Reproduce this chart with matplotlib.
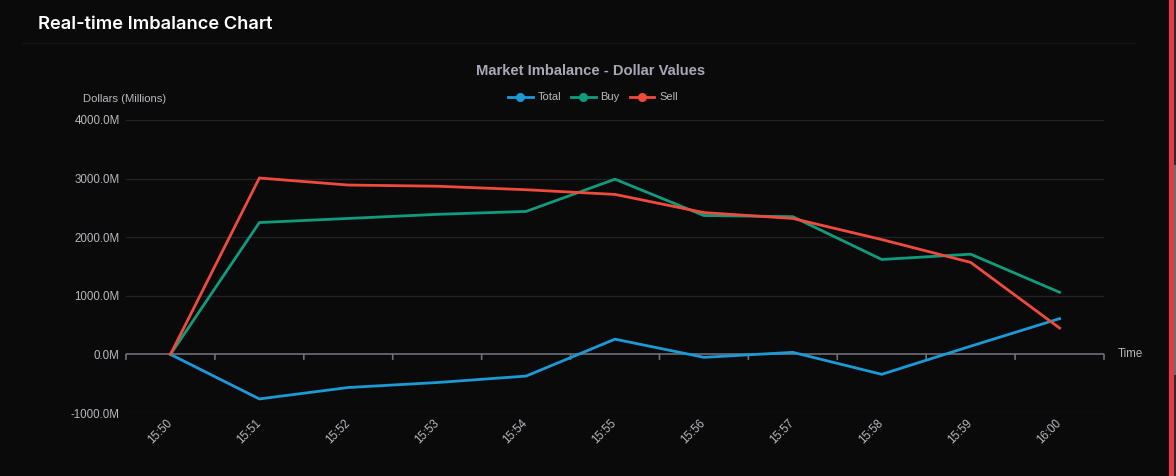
import matplotlib
matplotlib.use("Agg")
import matplotlib.pyplot as plt
from matplotlib.patches import Rectangle
from matplotlib.lines import Line2D
import matplotlib.transforms as mtransforms

# ---- data ----
times = ["15:50", "15:51", "15:52", "15:53", "15:54", "15:55",
         "15:56", "15:57", "15:58", "15:59", "16:00"]
buy = [0, 2250, 2320, 2390, 2440, 2990, 2370, 2350, 1620, 1710, 1060]
sell = [0, 3010, 2890, 2870, 2810, 2730, 2420, 2320, 1960, 1570, 450]
total = [0, -760, -565, -480, -370, 260, -50, 35, -340, 140, 610]
y_ticks = [-1000, 0, 1000, 2000, 3000, 4000]

W, H = 1176, 476
BG = "#0a0a0a"
C_TOTAL = "#1b9ad6"
C_BUY = "#119b7d"
C_SELL = "#ee4b3c"
TXT = "#b8b8be"

plt.rcParams['font.family'] = ['Liberation Sans', 'DejaVu Sans']

fig = plt.figure(figsize=(W / 100, H / 100), dpi=100, facecolor=BG)

def fx(px):
    return px / W

def fy(py):
    return 1 - py / H

# axes region in pixels
L, R, T, B = 126, 1104, 120, 413
ax = fig.add_axes([fx(L), fy(B), fx(R - L), (B - T) / H])
ax.set_facecolor(BG)
n = len(times)
xs = list(range(n))
ax.set_xlim(-0.5, n - 0.5)
ax.set_ylim(min(y_ticks), max(y_ticks))

for s in ax.spines.values():
    s.set_visible(False)

# grid
for v in y_ticks:
    if v != 0:
        ax.axhline(v, color="#222224", lw=1, zorder=0)
ax.set_yticks(y_ticks)
ax.set_yticklabels([f"{v:.1f}M" for v in y_ticks], color=TXT, fontsize=8.3)
ax.tick_params(axis='y', length=0, pad=4.5)

# zero axis with boundary ticks
ax.axhline(0, color="#6e6f78", lw=1.2, zorder=1)
ax.set_xticks([])
for i in range(n + 1):
    xb = i - 0.5
    ax.annotate("", xy=(xb, 0), xycoords='data', xytext=(0, -5), textcoords='offset pixels',
                arrowprops=dict(arrowstyle='-', color="#6e6f78", lw=1.2, shrinkA=0, shrinkB=0))

# x tick labels at bottom
btr = mtransforms.blended_transform_factory(ax.transData, ax.transAxes)
for i, t in enumerate(times):
    ax.text(i - 0.05, -0.015, t, transform=btr, rotation=45, rotation_mode='anchor',
            ha='right', va='top', color=TXT, fontsize=8.3)

ax.plot(xs, total, color=C_TOTAL, lw=2.0, zorder=3, solid_joinstyle='miter')
ax.plot(xs, buy, color=C_BUY, lw=2.0, zorder=3, solid_joinstyle='miter')
ax.plot(xs, sell, color=C_SELL, lw=2.0, zorder=4, solid_joinstyle='miter')

# axis names
fig.text(fx(125), fy(99.5), "Dollars (Millions)", ha='center', va='center', color=TXT, fontsize=8.1)
fig.text(fx(1118), fy(354), "Time", ha='left', va='center', color=TXT, fontsize=8.3)

# chart title
fig.text(fx(591), fy(71), "Market Imbalance - Dollar Values", ha='center', va='center',
         color="#a9a9b6", fontsize=10.6, fontweight='bold')

# legend
handles = [Line2D([], [], color=c, lw=2, marker='o', markersize=5.5, markeredgecolor=c)
           for c in (C_TOTAL, C_BUY, C_SELL)]
leg = fig.legend(handles, ["Total", "Buy", "Sell"], loc='center', bbox_to_anchor=(fx(593), fy(97.5)),
                 ncol=3, frameon=False, fontsize=8, handlelength=2.2, handletextpad=0.45,
                 columnspacing=0.9, labelcolor=TXT)

# header
fig.text(fx(38), fy(24.5), "Real-time Imbalance Chart", ha='left', va='center', color="white",
         fontsize=13.2, fontweight='semibold', family=['Inter', 'DejaVu Sans'])
fig.add_artist(Line2D([fx(22), fx(1135)], [fy(42.5), fy(42.5)], color="#181414", lw=1))

# right edge decoration
fig.patches.append(Rectangle((fx(1169), 0), fx(4.5), 1, transform=fig.transFigure,
                             facecolor="#e53944", edgecolor='none', lw=0, zorder=5))
fig.patches.append(Rectangle((fx(1173.5), 0), fx(2.5), 1, transform=fig.transFigure,
                             facecolor="#2a2a30", edgecolor='none', lw=0, zorder=5))
fig.patches.append(Rectangle((fx(1173.5), fy(375)), fx(2.5), (375 - 165) / H, transform=fig.transFigure,
                             facecolor="#6a6c7a", edgecolor='none', lw=0, zorder=6))

fig.savefig("out.png", dpi=100, facecolor=BG)
